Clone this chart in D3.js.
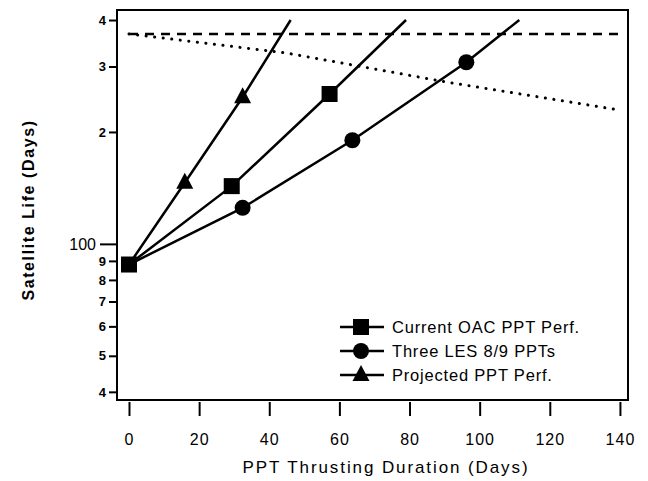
<!DOCTYPE html>
<html>
<head>
<meta charset="utf-8">
<script src="https://cdn.jsdelivr.net/npm/d3@7"></script>
<style>
	body { margin: 0; background: #fff; }
	text { font-family: "Liberation Sans", Arial, Helvetica, sans-serif; fill: #000; }
</style>
</head>
<body>
<svg width="648" height="481"></svg>
<script>

var oacDays = [0, 29.3, 57.2, 79];
var oacLife = [88, 143, 253, 400];

var lesDays = [0, 32.4, 63.7, 96.2, 111.3];
var lesLife = [88, 125, 190, 308, 400];

var projDays = [0, 15.9, 32.4, 46.1];
var projLife = [88, 146, 248, 400];

// reference lines
var dashDays = [0, 140];
var dashLife = [367, 367];
var dotDays = [0, 45, 90, 140];
var dotLife = [367, 326, 273, 229];

var xTicks = [0, 20, 40, 60, 80, 100, 120, 140];
var yTicks = [40, 50, 60, 70, 80, 90, 100, 200, 300, 400];
var yTickLabels = ['4', '5', '6', '7', '8', '9', '100', '2', '3', '4'];

var legendNames = ['Current OAC PPT Perf.', 'Three LES 8/9 PPTs', 'Projected PPT Perf.'];
var legendShapes = ['square', 'circle', 'triangle'];


var svg = d3.select('svg');

var frameLeft = 117, frameRight = 628, frameTop = 10, frameBottom = 400;

var x = d3.scaleLinear().domain([-3.42, 142.3]).range([frameLeft, frameRight]);
var y = d3.scaleLog().domain([38.03, 425.6]).range([frameBottom, frameTop]);

function zip(a, b){
	return a.map(function(d, i){ return [d, b[i]] });
}

var line = d3.line()
	.x(function(d){ return x(d[0]) })
	.y(function(d){ return y(d[1]) });

// dashed and dotted reference lines
svg.append('path')
	.attr('d', line(zip(dashDays, dashLife)))
	.attr('fill', 'none')
	.attr('stroke', '#000')
	.attr('stroke-width', 2.5)
	.attr('stroke-dasharray', '9,7');

svg.append('path')
	.attr('d', line(zip(dotDays, dotLife)))
	.attr('fill', 'none')
	.attr('stroke', '#000')
	.attr('stroke-width', 3)
	.attr('stroke-linecap', 'round')
	.attr('stroke-dasharray', '0.1,8.5');

// series lines
var series = [
	{ days: oacDays, life: oacLife, shape: 'square', lastMarked: 2 },
	{ days: lesDays, life: lesLife, shape: 'circle', lastMarked: 3 },
	{ days: projDays, life: projLife, shape: 'triangle', lastMarked: 2 }
];

series.forEach(function(s){
	svg.append('path')
		.attr('d', line(zip(s.days, s.life)))
		.attr('fill', 'none')
		.attr('stroke', '#000')
		.attr('stroke-width', 2.5);
});

function marker(g, shape, cx, cy){
	if (shape == 'square'){
		g.append('rect').attr('x', cx - 8).attr('y', cy - 8).attr('width', 16).attr('height', 16).attr('fill', '#000');
	} else if (shape == 'circle'){
		g.append('circle').attr('cx', cx).attr('cy', cy).attr('r', 8).attr('fill', '#000');
	} else {
		g.append('path')
			.attr('d', 'M' + cx + ',' + (cy - 10) + 'L' + (cx + 8.5) + ',' + (cy + 6) + 'L' + (cx - 8.5) + ',' + (cy + 6) + 'Z')
			.attr('fill', '#000');
	}
}

var marks = svg.append('g');
series.forEach(function(s){
	for (var i = 1; i <= s.lastMarked; i++){
		marker(marks, s.shape, x(s.days[i]), y(s.life[i]));
	}
});
// shared start point drawn as a square
marker(marks, 'square', x(oacDays[0]), y(oacLife[0]));

// frame
svg.append('rect')
	.attr('x', frameLeft).attr('y', frameTop)
	.attr('width', frameRight - frameLeft).attr('height', frameBottom - frameTop)
	.attr('fill', 'none')
	.attr('stroke', '#000')
	.attr('stroke-width', 2);

// x axis, offset below the frame
var xAxis = svg.append('g')
	.attr('transform', 'translate(0,' + (frameBottom + 2) + ')')
	.call(d3.axisBottom(x).tickValues(xTicks).tickSize(14).tickPadding(18));
xAxis.select('.domain').remove();
xAxis.attr('font-size', 16).attr('font-family', '"Liberation Sans", Arial, sans-serif');
xAxis.selectAll('text').attr('letter-spacing', 1);
xAxis.selectAll('line').attr('stroke-width', 2);

// y axis
var yAxis = svg.append('g')
	.attr('transform', 'translate(' + frameLeft + ',0)')
	.call(d3.axisLeft(y).tickValues(yTicks)
		.tickFormat(function(d, i){ return yTickLabels[i] })
		.tickSize(8).tickPadding(4));
yAxis.select('.domain').remove();
yAxis.attr('font-family', '"Liberation Sans", Arial, sans-serif');
yAxis.selectAll('line')
	.attr('stroke-width', 2)
	.attr('x2', function(d){ return d == 100 ? -17 : -8 });
yAxis.selectAll('text')
	.attr('font-size', function(d){ return d == 100 ? 16 : 13 })
	.attr('font-weight', function(d){ return d == 100 ? 'normal' : 'bold' })
	.attr('x', function(d){ return d == 100 ? -21 : -11 });

// axis titles
svg.append('text')
	.attr('x', 386).attr('y', 473)
	.attr('text-anchor', 'middle')
	.attr('font-size', 17)
	.attr('letter-spacing', 1.9)
	.text('PPT Thrusting Duration (Days)');

svg.append('text')
	.attr('transform', 'translate(34,210) rotate(-90)')
	.attr('text-anchor', 'middle')
	.attr('font-size', 16)
	.attr('font-weight', 'bold')
	.attr('letter-spacing', 1.6)
	.text('Satellite Life (Days)');

// legend
var legend = svg.append('g');
legendNames.forEach(function(name, i){
	var ly = 327 + i * 24;
	legend.append('line')
		.attr('x1', 340).attr('x2', 384)
		.attr('y1', ly).attr('y2', ly)
		.attr('stroke', '#000').attr('stroke-width', 2.5);
	marker(legend, legendShapes[i], 361, ly);
	legend.append('text')
		.attr('x', 392).attr('y', ly + 6)
		.attr('font-size', 16.5)
		.attr('letter-spacing', 0.8)
		.text(name);
});

</script>
</body>
</html>
